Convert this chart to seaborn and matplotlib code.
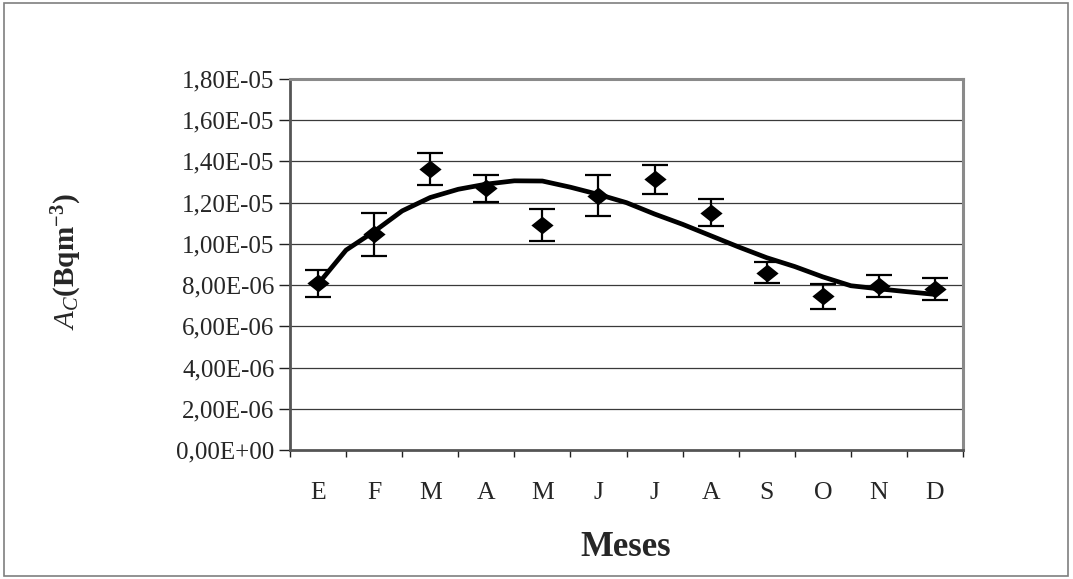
import numpy as np
import pandas as pd
import matplotlib
matplotlib.use("Agg")
import matplotlib.pyplot as plt
from matplotlib.path import Path
from matplotlib.patches import Rectangle
import seaborn as sns

# Monthly activity concentration (Bq m^-3) with uncertainties
months = ["E", "F", "M", "A", "M", "J", "J", "A", "S", "O", "N", "D"]
activity = [8.08e-6, 10.46e-6, 13.63e-6, 12.69e-6, 10.90e-6, 12.33e-6,
            13.14e-6, 11.52e-6, 8.60e-6, 7.46e-6, 7.95e-6, 7.82e-6]
uncertainty = [0.65e-6, 1.06e-6, 0.77e-6, 0.65e-6, 0.78e-6, 1.00e-6,
               0.71e-6, 0.66e-6, 0.52e-6, 0.60e-6, 0.55e-6, 0.53e-6]

# Fitted seasonal curve, sampled every half month (month index 0..11)
curve_month = [0.0, 0.5, 1.0, 1.5, 2.0, 2.5, 3.0, 3.5, 4.0, 4.5, 5.0, 5.5,
               6.0, 6.5, 7.0, 7.5, 8.0, 8.5, 9.0, 9.5, 10.0, 10.5, 11.0]
curve_value = [8.05e-6, 9.70e-6, 10.60e-6, 11.60e-6, 12.25e-6, 12.65e-6,
               12.90e-6, 13.06e-6, 13.05e-6, 12.75e-6, 12.40e-6, 12.00e-6,
               11.45e-6, 10.95e-6, 10.40e-6, 9.85e-6, 9.33e-6, 8.90e-6,
               8.40e-6, 7.97e-6, 7.82e-6, 7.68e-6, 7.55e-6]

y_ticks = [0, 2e-6, 4e-6, 6e-6, 8e-6, 1.0e-5, 1.2e-5, 1.4e-5, 1.6e-5, 1.8e-5]
y_tick_labels = ["0,00E+00", "2,00E-06", "4,00E-06", "6,00E-06", "8,00E-06",
                 "1,00E-05", "1,20E-05", "1,40E-05", "1,60E-05", "1,80E-05"]

sns.set_theme(style="white")
plt.rcParams["font.family"] = ["Liberation Serif", "DejaVu Serif"]
plt.rcParams["mathtext.fontset"] = "custom"
plt.rcParams["mathtext.rm"] = "Liberation Serif"
plt.rcParams["mathtext.it"] = "Liberation Serif:italic"
plt.rcParams["mathtext.bf"] = "Liberation Serif:bold"

fig = plt.figure(figsize=(10.73, 5.79), dpi=100)
fig.patch.set_facecolor("white")
fig.patches.append(Rectangle((4 / 1073, 3 / 579), 1064 / 1073, 573 / 579,
                             transform=fig.transFigure, fill=False,
                             edgecolor="#7f7f7f", linewidth=1.2))

ax = fig.add_axes([290 / 1073, (579 - 450) / 579, 673 / 1073, 371 / 579])

pts = pd.DataFrame({"month": np.arange(len(months)), "activity": activity,
                    "err": uncertainty})
curve = pd.DataFrame({"month": curve_month, "activity": curve_value})

# Horizontal gridlines
for t in y_ticks[1:]:
    ax.axhline(t, color="#3a3a3a", linewidth=0.9, zorder=0)

sns.lineplot(data=curve, x="month", y="activity", ax=ax, color="black",
             linewidth=3.4, zorder=3, legend=False)

ax.errorbar(pts["month"], pts["activity"], yerr=pts["err"], fmt="none",
            ecolor="black", elinewidth=1.6, capsize=9.6, capthick=1.6, zorder=4)

diamond = Path([(-1, 0), (0, 0.8), (1, 0), (0, -0.8), (-1, 0)],
               [Path.MOVETO, Path.LINETO, Path.LINETO, Path.LINETO, Path.CLOSEPOLY])
sns.scatterplot(data=pts, x="month", y="activity", ax=ax, marker=diamond,
                s=16 ** 2, color="black", edgecolor="black", linewidth=0,
                zorder=5, legend=False)

ax.set_xlim(-0.5, len(months) - 0.5)
ax.set_ylim(0, 1.8e-5)
ax.set_yticks(y_ticks)
ax.set_yticklabels(y_tick_labels)

# Category boundaries carry the tick marks, labels sit at the centres
ax.set_xticks(np.arange(-0.5, len(months)), minor=False)
ax.set_xticklabels([])
ax.set_xticks(np.arange(len(months)), minor=True)
ax.set_xticklabels(months, minor=True)
ax.tick_params(axis="x", which="major", direction="out", length=5, width=1,
               color="#202020", bottom=True)
ax.tick_params(axis="x", which="minor", length=0, pad=23, labelsize=18.5,
               bottom=True)
ax.tick_params(axis="y", direction="out", length=8, width=1, color="#202020",
               left=True, labelsize=18, pad=3)

for side in ["left", "bottom"]:
    ax.spines[side].set_color("#555555")
    ax.spines[side].set_linewidth(2.0)
for side in ["right", "top"]:
    ax.spines[side].set_color("#8a8a8a")
    ax.spines[side].set_linewidth(2.2)

ax.set_xlabel("")
ax.set_ylabel("")
fig.text(67 / 1073, 1 - 262 / 579, r"$A_C\mathbf{(Bqm^{-3})}$", rotation=90,
         ha="center", va="center", fontsize=21)
fig.text(626 / 1073, 1 - 547 / 579, "Meses", ha="center", va="center",
         fontsize=25, fontweight="bold")

fig.savefig("out.png", dpi=100, facecolor="white")
